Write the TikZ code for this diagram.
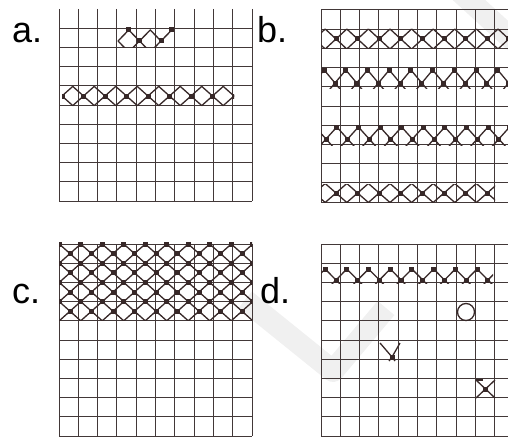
\documentclass[tikz,border=0pt]{standalone}
\usepackage{fontspec}
\setmainfont{Liberation Sans}
\definecolor{gridc}{RGB}{66,56,56}
\definecolor{ink}{RGB}{55,40,40}
\definecolor{wm}{RGB}{240,240,240}
\tikzset{
  gridline/.style={draw=gridc, line width=1pt},
  chainline/.style={draw=ink, line width=1.3pt},
  knot/.style={fill=ink},
  lbl/.style={font=\fontsize{36}{40}\selectfont, anchor=base west, inner sep=0pt},
  wmark/.style={draw=wm, line width=22pt, line join=round},
}
% #1 x0, #2 y0, #3 first horizontal line index (0 or 1)
\newcommand\drawgridat[3]{%
  \foreach \i in {0,...,10}{\draw[gridline] ({#1+\i*19.3},#2) -- ({#1+\i*19.3},{#2+192});}
  \foreach \j in {#3,...,10}{\draw[gridline] (#1,{#2+\j*19.2}) -- ({#1+193},{#2+\j*19.2});}
}
% #1 x1, #2 x2, #3 ytop, #4 ybot, #5 c0, #6 p, #7 yc, #8 hh
\newcommand\chainrow[8]{%
  \begin{scope}
    \clip (#1,#3) rectangle (#2,#4);
    \foreach \k in {-1,...,10}{
      \draw[chainline] ({#5+(\k-0.5)*#6},{#7-#8}) -- ({#5+(\k+0.5)*#6},{#7+#8});
      \draw[chainline] ({#5+(\k-0.5)*#6},{#7+#8}) -- ({#5+(\k+0.5)*#6},{#7-#8});
      \fill[knot] ({#5+\k*#6-2.5},{#7-2.5}) rectangle ({#5+\k*#6+2.5},{#7+2.5});
    }
  \end{scope}}
% #1 x1, #2 x2, #3 first x, #4 p, #5 y
\newcommand\topknots[5]{%
  \begin{scope}
    \clip (#1,0) rectangle (#2,436);
    \foreach \k in {0,...,9}{
      \fill[knot] ({#3+\k*#4-2.5},{#5-2.5}) rectangle ({#3+\k*#4+2.5},{#5+2.5});
    }
  \end{scope}}
\begin{document}
\begin{tikzpicture}[x=1pt,y=-1pt]
\useasboundingbox (0,0) rectangle (508,436);
% faint watermark
\draw[wmark] (245,300) -- (333,371) -- (386,308);
\draw[wmark] (458,-10) -- (515,42);
% grids
\drawgridat{59}{9}{1}
\drawgridat{321}{10}{0}
\drawgridat{59}{244}{0}
\drawgridat{321}{244}{0}
% labels
\node[lbl] (la) at (12,42) {a.};
\node[lbl] (lb) at (257,42) {b.};
\node[lbl] (lc) at (12,303) {c.};
\node[lbl] (ld) at (260,303) {d.};
% panel a
\chainrow{62}{234}{86}{106}{62}{21.5}{96}{9.6}
\begin{scope}
  \clip (110,28) rectangle (180,48);
  \draw[chainline] (118,41) -- (128.75,30) -- (150.25,52) -- (171.75,30);
  \draw[chainline] (118,41) -- (128.75,52) -- (150.25,30) -- (161,41);
\end{scope}
\foreach \p in {(139.5,41),(161,41),(128.75,30),(171.75,30)}{
  \fill[knot] \p +(-2.5,-2.5) rectangle +(2.5,2.5);
}
% panel b
\chainrow{321}{508}{29}{49}{336}{21.6}{39}{10}
\chainrow{321}{508}{68}{88}{335}{21.7}{83}{13}
\topknots{321}{508}{324.15}{21.7}{70}
\chainrow{321}{508}{126}{145}{326}{21.6}{139}{12}
\topknots{321}{508}{336.8}{21.6}{127}
\chainrow{321}{495}{184}{203}{336}{21.6}{193}{9.5}
% panel c
\chainrow{59}{252}{244}{263.2}{70}{21.5}{253.6}{9.6}
\chainrow{59}{252}{263.2}{282.4}{70}{21.5}{272.8}{9.6}
\chainrow{59}{252}{282.4}{301.6}{70}{21.5}{292}{9.6}
\chainrow{59}{252}{301.6}{320.8}{70}{21.5}{311.2}{9.6}
\topknots{59}{252}{59.25}{21.5}{244}
\topknots{59}{252}{59.25}{21.5}{263.2}
\topknots{59}{252}{59.25}{21.5}{282.4}
\topknots{59}{252}{59.25}{21.5}{301.6}
% panel d
\chainrow{321}{493}{263}{283}{336}{21.7}{280}{11}
\topknots{321}{493}{325.15}{21.7}{269}
\draw[chainline] (466,312) circle (8.5);
\draw[chainline] (380,343) -- (392,357) -- (400,343);
\draw[chainline] (392,357) -- (389,361);
\draw[chainline] (392,357) -- (395,361);
\fill[knot] (389.5,354.5) rectangle (394.5,359.5);
\draw[chainline] (476,380) -- (483,380);
\draw[chainline] (476,380) -- (495,398);
\draw[chainline] (476,398) -- (495,380);
\fill[knot] (483,386.5) rectangle (488,391.5);
\end{tikzpicture}
\end{document}
